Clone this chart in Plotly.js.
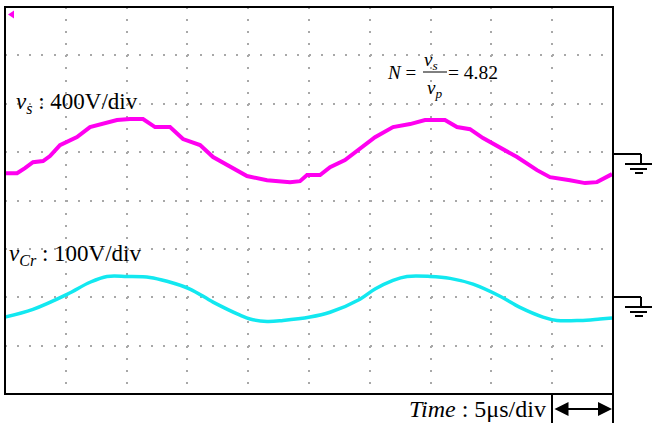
<!DOCTYPE html>
<html>
<head>
<meta charset="utf-8">
<script src="https://cdn.plot.ly/plotly-3.0.1.min.js"></script>
<style>html,body{margin:0;padding:0;background:#fff;}#chart{width:653px;height:426px;}</style>
</head>
<body>
<div id="chart"></div>
<script>
// ---- Data (time in microseconds, voltages in volts) ----
const vsTime = [0,0.99,1.64,2.30,3.13,3.70,4.52,5.92,6.99,8.06,9.21,10.28,11.35,12.34,13.57,14.64,16.04,17.11,18.09,19.08,19.90,21.55,23.44,24.26,24.84,25.91,26.73,27.96,29.19,30.43,31.91,33.31,34.54,36.18,37.17,38.24,39.31,40.71,42.11,43.75,44.82,46.46,47.70,48.68,49.51,49.92];
const vsVolts = [-174,-174,-132,-83,-74,-33,58,124,207,232,265,273,273,207,207,108,58,-41,-99,-149,-198,-232,-248,-240,-190,-190,-124,-66,33,124,207,232,265,265,207,190,116,41,-41,-149,-207,-232,-256,-248,-198,-182];
const vcrTime = [0,2.30,5.10,6.99,8.39,10.03,11.92,13.32,15.21,17.11,19.33,20.15,21.55,22.86,25.08,26.73,29.19,30.43,31.91,33.06,34.95,36.60,38.49,40.71,42.35,44.24,45.39,47.29,48.93,49.92];
const vcrVolts = [-41,-25,6,31,43,43,41,33,17,-10,-37,-45,-50,-48,-41,-31,-4,17,35,43,43,39,27,2,-21,-41,-48,-48,-45,-43];

const labelVs = "<i>v<sub>s</sub></i> : 400V/div";
const labelVcr = "<i>v<sub>Cr</sub></i> : 100V/div";
const labelTime = "<i>Time</i> : 5μs/div";
const formulaN = "<i>N</i> =";
const formulaNum = "<i>v<sub>s</sub></i>";
const formulaDen = "<i>v<sub>p</sub></i>";
const formulaVal = "= 4.82";

// ---- Layout helpers (pixel -> paper) ----
const W = 653, H = 426, L = 5, T = 7, R = 613, B = 394;
const pw = R - L, ph = B - T;
const px = x => (x - L) / pw;
const py = y => (B - y) / ph;
const line = (x0, y0, x1, y1, w) => ({type:'line', xref:'paper', yref:'paper', x0:px(x0), y0:py(y0), x1:px(x1), y1:py(y1), line:{color:'#000', width:w||2}});
const ground = (y) => [
  line(613, y, 641, y), line(641, y, 641, y + 10),
  line(625, y + 10, 652, y + 10), line(630, y + 15, 647, y + 15), line(635, y + 19, 643, y + 19)
];
const serif = "Liberation Serif, Times New Roman, serif";
const ann = (text, x, y, xanchor, size) => ({text, xref:'paper', yref:'paper', x:px(x), y:py(y), xanchor, yanchor:'middle', showarrow:false, font:{family:serif, size:size, color:'#000'}});

const traces = [
  {x: vsTime, y: vsVolts, type:'scatter', mode:'lines', line:{color:'#ff00f0', width:4}, yaxis:'y', hoverinfo:'skip'},
  {x: vcrTime, y: vcrVolts, type:'scatter', mode:'lines', line:{color:'#12e8f0', width:3.5, shape:'spline'}, yaxis:'y2', hoverinfo:'skip'}
];

const shapes = [
  {type:'rect', xref:'paper', yref:'paper', x0:0, y0:0, x1:1, y1:1, line:{color:'#000', width:2}},
  ...ground(154), ...ground(297),
  line(423, 72, 447, 72, 1),
  line(552, 394, 552, 423), line(613, 394, 613, 423),
  {type:'path', xref:'paper', yref:'paper', fillcolor:'#ff00f0', line:{width:0},
   path:`M${px(14)},${py(10.5)} L${px(8)},${py(14.5)} L${px(14)},${py(18.5)} Z`}
];

const annotations = [
  ann(labelVs, 14, 103, 'left', 23),
  ann(labelVcr, 7, 255, 'left', 23),
  ann(formulaN, 385, 73, 'left', 19),
  ann(formulaNum, 422, 61, 'left', 19),
  ann(formulaDen, 425, 89, 'left', 19),
  ann(formulaVal, 446, 73, 'left', 19.5),
  ann(labelTime, 548, 409, 'right', 24),
  {text:'', xref:'paper', yref:'paper', x:px(612), y:py(409), ax:-59, ay:0, showarrow:true,
   arrowside:'end+start', arrowhead:2, arrowsize:1.4, arrowwidth:2, arrowcolor:'#000', standoff:0, startstandoff:0}
];

const layout = {
  width: W, height: H,
  margin: {l: L, r: W - R, t: T, b: H - B, pad: 0},
  paper_bgcolor: '#fff', plot_bgcolor: '#fff',
  showlegend: false,
  xaxis: {range:[0,50], dtick:5, tick0:0, showgrid:true, gridcolor:'#a8a8a8', gridwidth:2, griddash:'2px,10.09px',
          zeroline:false, showticklabels:false, ticks:'', showline:false, fixedrange:true},
  yaxis: {range:[-2000,1200], dtick:400, tick0:0, showgrid:true, gridcolor:'#a8a8a8', gridwidth:2, griddash:'2px,10.16px',
          zeroline:false, showticklabels:false, ticks:'', showline:false, fixedrange:true},
  yaxis2: {range:[-200,600], overlaying:'y', visible:false, showgrid:false, zeroline:false, fixedrange:true},
  shapes, annotations
};

Plotly.newPlot('chart', traces, layout, {staticPlot:true, displayModeBar:false});
</script>
</body>
</html>
